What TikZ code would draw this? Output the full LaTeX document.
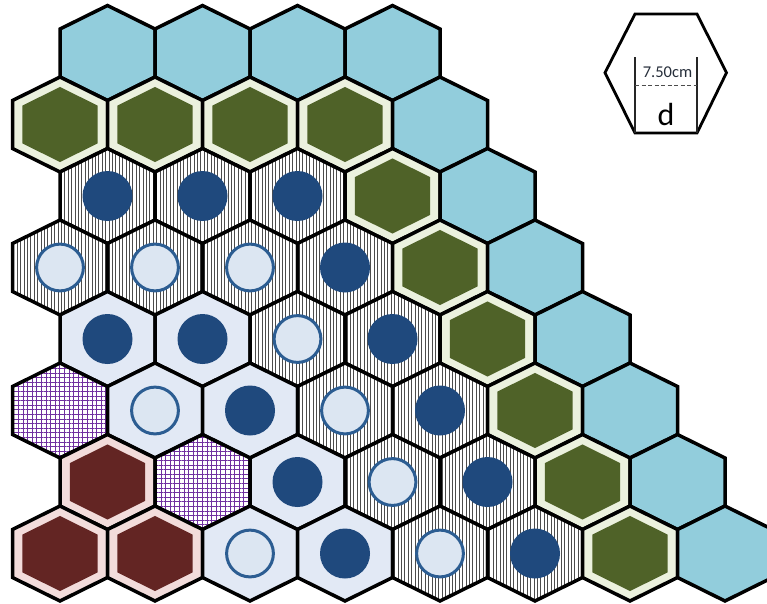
\documentclass[tikz,border=0pt]{standalone}
\usepackage{fontspec}
\setmainfont{Carlito}
\usetikzlibrary{patterns.meta}
\definecolor{hexblue}{HTML}{92CDDC}
\definecolor{darkG}{HTML}{4F6228}
\definecolor{frameG}{HTML}{EBF1DE}
\definecolor{darkR}{HTML}{632523}
\definecolor{frameR}{HTML}{F2DCDB}
\definecolor{lightbg}{HTML}{E2E9F5}
\definecolor{circlight}{HTML}{DCE6F2}
\definecolor{circdark}{HTML}{1F497D}
\definecolor{circring}{HTML}{2C5D92}
\definecolor{gridpurple}{HTML}{7030A0}
\definecolor{legtext}{HTML}{262E3A}
\newcommand\hexat[3]{\path[shift={(#1,#2)},#3] (0,-47.5) -- (47.5,-24) -- (47.5,24) -- (0,47.5) -- (-47.5,24) -- (-47.5,-24) -- cycle;}
\newcommand\cellB[2]{\hexat{#1}{#2}{fill=hexblue,hexborder}}
\newcommand\cellG[2]{\hexat{#1}{#2}{fill=frameG,hexborder}\hexat{#1}{#2}{fill=darkG,scale=0.79}}
\newcommand\cellR[2]{\hexat{#1}{#2}{fill=frameR,hexborder}\hexat{#1}{#2}{fill=darkR,scale=0.79}}
\newcommand\cellP[2]{\hexat{#1}{#2}{fill=white}\hexat{#1}{#2}{purplegrid}\hexat{#1}{#2}{hexborder}}
\newcommand\cellHD[2]{\hexat{#1}{#2}{fill=white}\hexat{#1}{#2}{vhatch}\hexat{#1}{#2}{hexborder}\path[darkcirc] (#1,#2) circle[radius=25];}
\newcommand\cellHL[2]{\hexat{#1}{#2}{fill=white}\hexat{#1}{#2}{vhatch}\hexat{#1}{#2}{hexborder}\path[lightcirc] (#1,#2) circle[radius=23.4];}
\newcommand\cellLD[2]{\hexat{#1}{#2}{fill=lightbg,hexborder}\path[darkcirc] (#1,#2) circle[radius=25];}
\newcommand\cellLL[2]{\hexat{#1}{#2}{fill=lightbg,hexborder}\path[lightcirc] (#1,#2) circle[radius=23.4];}
\begin{document}
\begin{tikzpicture}[x=1pt,y=-1pt,
  hexborder/.style={draw=black,line width=3.5pt,line join=miter},
  vhatch/.style={pattern={Lines[angle=90,distance=3.4pt,line width=0.55pt]},pattern color=black!70},
  purplegrid/.style={pattern={Hatch[angle=0,distance=4.6pt,line width=0.65pt]},pattern color=gridpurple},
  darkcirc/.style={fill=circdark},
  lightcirc/.style={fill=circlight,draw=circring,line width=3pt},
  legendline/.style={draw=black,line width=2.8pt,line join=miter},
  innerline/.style={draw=black!85,line width=1.3pt},
  dashline/.style={draw=black!70,line width=0.9pt,dash pattern=on 4pt off 2.5pt}]
\useasboundingbox (0,0) rectangle (767,603);
\path[clip] (0,0) rectangle (767,603);
% row 0
\cellB{107.5}{53}\cellB{202.5}{53}\cellB{297.5}{53}\cellB{392.5}{53}
% row 1
\cellG{60}{124.5}\cellG{155}{124.5}\cellG{250}{124.5}\cellG{345}{124.5}\cellB{440}{124.5}
% row 2
\cellHD{107.5}{196}\cellHD{202.5}{196}\cellHD{297.5}{196}\cellG{392.5}{196}\cellB{487.5}{196}
% row 3
\cellHL{60}{267.5}\cellHL{155}{267.5}\cellHL{250}{267.5}\cellHD{345}{267.5}\cellG{440}{267.5}\cellB{535}{267.5}
% row 4
\cellLD{107.5}{339}\cellLD{202.5}{339}\cellHL{297.5}{339}\cellHD{392.5}{339}\cellG{487.5}{339}\cellB{582.5}{339}
% row 5
\cellP{60}{410.5}\cellLL{155}{410.5}\cellLD{250}{410.5}\cellHL{345}{410.5}\cellHD{440}{410.5}\cellG{535}{410.5}\cellB{630}{410.5}
% row 6
\cellR{107.5}{482}\cellP{202.5}{482}\cellLD{297.5}{482}\cellHL{392.5}{482}\cellHD{487.5}{482}\cellG{582.5}{482}\cellB{677.5}{482}
% row 7
\cellR{60}{553.5}\cellR{155}{553.5}\cellLL{250}{553.5}\cellLD{345}{553.5}\cellHL{440}{553.5}\cellHD{535}{553.5}\cellG{630}{553.5}\cellB{725}{553.5}
% legend
\coordinate (lgL) at (605,72.7);
\coordinate (lgTL) at (635,14);
\coordinate (lgTR) at (697,14);
\coordinate (lgR) at (726.5,72.7);
\coordinate (lgBR) at (697,133);
\coordinate (lgBL) at (635,133);
\coordinate (lgIL) at (635,57);
\coordinate (lgIR) at (697,57);
\coordinate (lgDL) at (635,85.7);
\coordinate (lgDR) at (697,85.7);
\path[fill=white,legendline] (lgL) -- (lgTL) -- (lgTR) -- (lgR) -- (lgBR) -- (lgBL) -- cycle;
\path[innerline] (lgIL) -- (lgBL);
\path[innerline] (lgIR) -- (lgBR);
\path[dashline] (lgDL) -- (lgDR);
\node[font=\fontsize{16.5}{16.5}\selectfont,text=legtext,inner sep=0pt] (lgtext) at (667.5,72) {7.50cm};
\node[font=\fontsize{32}{32}\selectfont,inner sep=0pt] (lgd) at (666,114) {d};
\end{tikzpicture}
\end{document}
